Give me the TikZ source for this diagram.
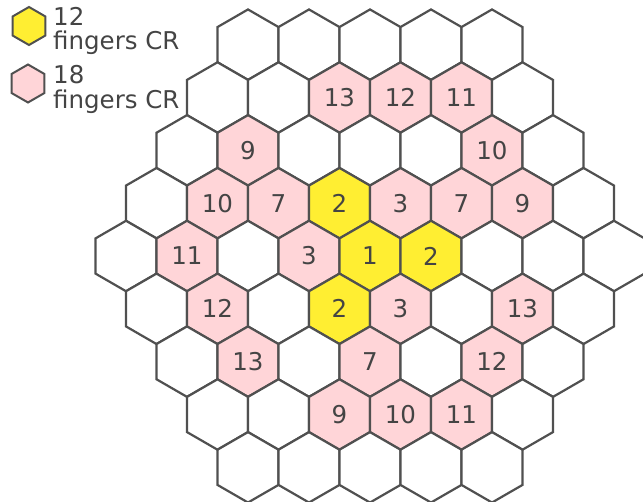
\documentclass[tikz,border=0pt]{standalone}
\usepackage{fontspec}
\setmainfont{DejaVu Sans}
\usetikzlibrary{shapes.geometric}
\definecolor{cry}{RGB}{255,238,50}
\definecolor{crp}{RGB}{255,213,216}
\definecolor{edgec}{RGB}{80,80,80}
\definecolor{txtc}{RGB}{68,68,68}
\begin{document}
\begin{tikzpicture}[x=1pt,y=-1pt,
  hexcell/.style={regular polygon, regular polygon sides=6, shape border rotate=30,
    minimum size=70.44pt, inner sep=0pt, draw=edgec, line width=2.2pt,
    text=txtc, font=\fontsize{24.5}{28}\selectfont},
  keyhex/.style={regular polygon, regular polygon sides=6, shape border rotate=30,
    minimum size=38pt, inner sep=0pt, draw=edgec, line width=2pt},
  keytext/.style={anchor=base west, inner sep=0pt, text=txtc, font=\fontsize{24.5}{28}\selectfont}]
\useasboundingbox (0,0) rectangle (643,502);
\foreach \r/\k/\f/\t in {
 -4/0/white/{}, -4/1/white/{}, -4/2/white/{}, -4/3/white/{}, -4/4/white/{},
 -3/0/white/{}, -3/1/white/{}, -3/2/crp/13, -3/3/crp/12, -3/4/crp/11, -3/5/white/{},
 -2/0/white/{}, -2/1/crp/9, -2/2/white/{}, -2/3/white/{}, -2/4/white/{}, -2/5/crp/10, -2/6/white/{},
 -1/0/white/{}, -1/1/crp/10, -1/2/crp/7, -1/3/cry/2, -1/4/crp/3, -1/5/crp/7, -1/6/crp/9, -1/7/white/{},
 0/0/white/{}, 0/1/crp/11, 0/2/white/{}, 0/3/crp/3, 0/4/cry/1, 0/5/cry/2, 0/6/white/{}, 0/7/white/{}, 0/8/white/{},
 1/0/white/{}, 1/1/crp/12, 1/2/white/{}, 1/3/cry/2, 1/4/crp/3, 1/5/white/{}, 1/6/crp/13, 1/7/white/{},
 2/0/white/{}, 2/1/crp/13, 2/2/white/{}, 2/3/crp/7, 2/4/white/{}, 2/5/crp/12, 2/6/white/{},
 3/0/white/{}, 3/1/white/{}, 3/2/crp/9, 3/3/crp/10, 3/4/crp/11, 3/5/white/{},
 4/0/white/{}, 4/1/white/{}, 4/2/white/{}, 4/3/white/{}, 4/4/white/{}}{
  \pgfmathsetmacro{\hx}{126+abs(\r)*30.5+61*\k}
  \pgfmathsetmacro{\hy}{256+52.83*\r}
  \node[hexcell, fill=\f] (h\r x\k) at (\hx,\hy) {\t};
}
\node[keyhex, fill=cry] (k12) at (29,26) {};
\node[keyhex, fill=crp] (k18) at (28,83.5) {};
\node[keytext] (k12a) at (53,26) {12};
\node[keytext] (k12b) at (53,50) {fingers CR};
\node[keytext] (k18a) at (53,83.5) {18};
\node[keytext] (k18b) at (53,108.5) {fingers CR};
\end{tikzpicture}
\end{document}
